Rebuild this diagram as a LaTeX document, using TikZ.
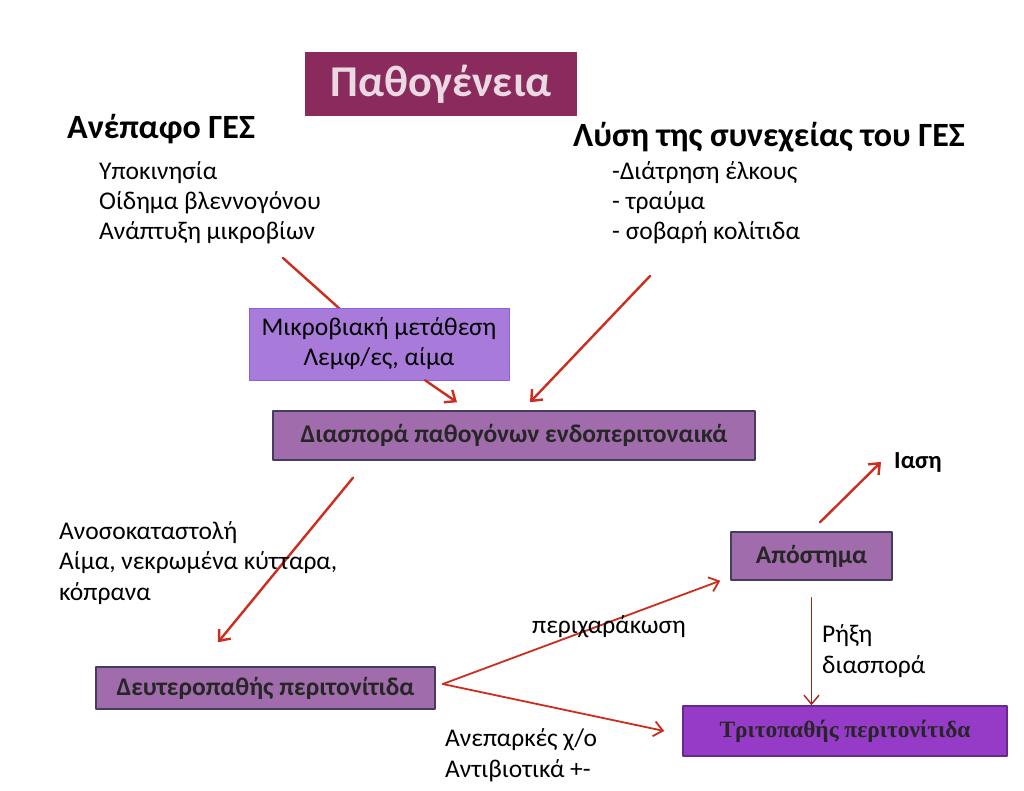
\documentclass[tikz,border=0pt]{standalone}
\usepackage{fontspec}
\setmainfont{Carlito}
\newfontfamily\serifgr{Liberation Serif}
\usetikzlibrary{arrows.meta}
\definecolor{titlecol}{RGB}{139,42,92}
\definecolor{lavcol}{RGB}{168,122,218}
\definecolor{mauvecol}{RGB}{160,108,172}
\definecolor{tritocol}{RGB}{150,58,200}
\definecolor{edgecol}{RGB}{70,60,95}
\definecolor{arrcol}{RGB}{205,45,30}
\tikzset{
	body/.style={font=\fontsize{25.5}{30.2}\selectfont, align=left, anchor=base west, inner sep=0pt},
	head/.style={font=\bfseries\fontsize{34}{40}\selectfont, anchor=base west, inner sep=0pt},
	mauvebox/.style={fill=mauvecol, draw=edgecol, line width=1.5pt, text=black!85,
		font=\bfseries\fontsize{25.5}{30}\selectfont, inner sep=0pt},
	arr/.style={->, draw=arrcol, line width=2.4pt}
}
\begin{document}
\begin{tikzpicture}[x=1pt,y=-1pt,>={Straight Barb[length=9pt,width=15pt]}, line join=round, line cap=round]
	\useasboundingbox[fill=white] (0,0) rectangle (1024,791);
	% top part
	\node[fill=titlecol, minimum width=272, minimum height=64, inner sep=0pt, text=white!82!titlecol,
		font=\bfseries\fontsize{44}{48}\selectfont] (title) at (441,84) {Παθογένεια};
	\node[head] (intact) at (67,139) {Ανέπαφο ΓΕΣ};
	\node[body] (intlist) at (99,240) {Υποκινησία\\Οίδημα βλεννογόνου\\Ανάπτυξη μικροβίων};
	\node[head] (break) at (573,147) {Λύση της συνεχείας του ΓΕΣ};
	\node[body] (brklist) at (612,240) {-Διάτρηση έλκους\\- τραύμα\\- σοβαρή κολίτιδα};
	\coordinate (c1) at (283,258);
	\coordinate (c2) at (650,276);
	\draw[draw=arrcol, line width=2.4pt] (c1)--(379,344);
	\node[fill=lavcol, draw=lavcol!80!blue, minimum width=260, minimum height=72, inner sep=0pt,
		align=center, font=\fontsize{25.5}{30}\selectfont] (mikro) at (379,344) {Μικροβιακή μετάθεση\\Λεμφ/ες, αίμα};
	\node[mauvebox, minimum width=482, minimum height=49] (diasp) at (514,435.5) {Διασπορά παθογόνων ενδοπεριτοναικά};
	\draw[arr] ([xshift=46]mikro.south)--([xshift=-57,yshift=8]diasp.north);
	\draw[arr] (c2)--([xshift=16,yshift=8]diasp.north);
	% bottom part
	\node[mauvebox, minimum width=339, minimum height=42] (deut) at (265.5,688) {Δευτεροπαθής περιτονίτιδα};
	\node[mauvebox, minimum width=161, minimum height=48] (apost) at (811.5,556) {Απόστημα};
	\node[fill=tritocol, draw=tritocol!70!black, line width=1.5pt, minimum width=324, minimum height=50,
		inner sep=0pt, text=black!85, font=\serifgr\bfseries\fontsize{23.4}{27}\selectfont] (trito) at (845,731) {Τριτοπαθής περιτονίτιδα};
	\node[font=\bfseries\fontsize{24.5}{28}\selectfont, anchor=base west, inner sep=0pt] (iasi) at (894,468) {Ιαση};
	\draw[arr] ([xshift=-161,yshift=-17]diasp.south)--([xshift=-47.5,yshift=24]deut.north);
	\draw[arr] ([xshift=8.5,yshift=9]apost.north)--([xshift=-13]iasi.west);
	\draw[->, draw=arrcol, line width=1.8pt] ([xshift=7,yshift=4]deut.east)--([xshift=-10]apost.south west);
	\draw[->, draw=arrcol, line width=1.8pt] ([xshift=7,yshift=4]deut.east)--([xshift=-18]trito.west);
	\draw[->, draw=arrcol!80!black, line width=1.4pt] ([yshift=-17]apost.south)--(apost.south |- trito.north);
	% labels
	\node[body] (immun) at (59,600) {Ανοσοκαταστολή\\Αίμα, νεκρωμένα κύτταρα,\\κόπρανα};
	\node[body] (perix) at (532,633) {περιχαράκωση};
	\node[body] (rixi) at (822,673) {Ρήξη\\διασπορά};
	\node[body] (anep) at (445,777) {Ανεπαρκές χ/ο\\Αντιβιοτικά +-};
\end{tikzpicture}
\end{document}
